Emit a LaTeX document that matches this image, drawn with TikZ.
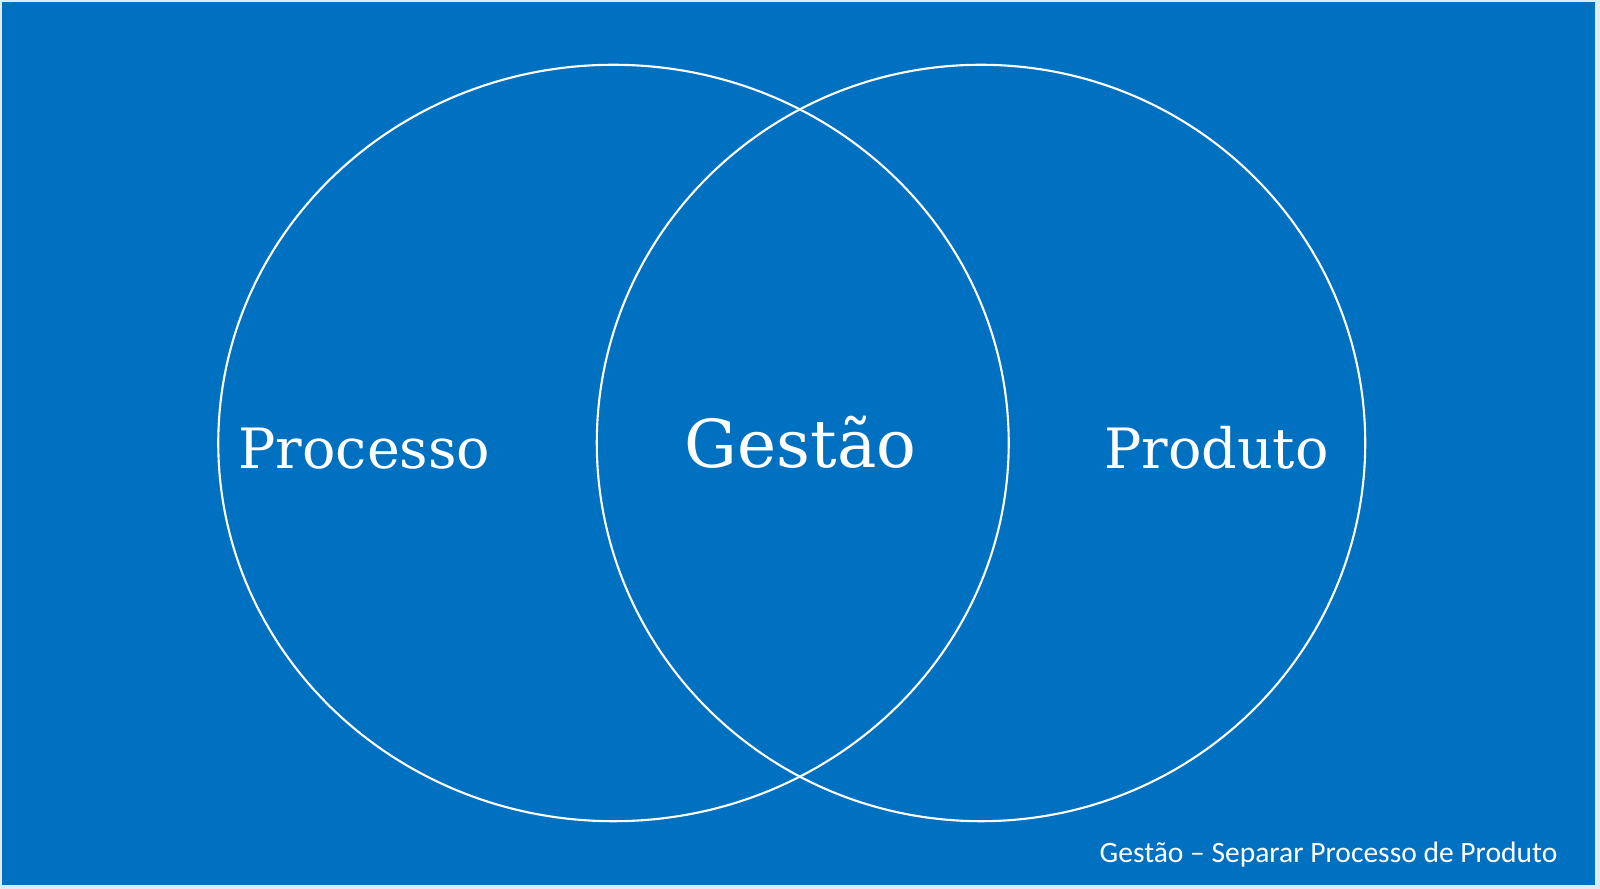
\documentclass[tikz,border=0pt]{standalone}
\usepackage{fontspec}
\setmainfont{DejaVu Serif}
\newfontfamily\footfont{Carlito}
\definecolor{bgblue}{RGB}{0,112,192}
\definecolor{edge}{RGB}{225,235,245}
\tikzset{
  venn/.style={draw=white, line width=0.6pt},
  bigtext/.style={text=white, inner sep=0pt, font=\fontsize{15.8}{18}\selectfont},
  foottext/.style={text=white, inner sep=0pt, font=\footfont\fontsize{8.4}{10}\selectfont}
}
\begin{document}
\begin{tikzpicture}[x=0.01cm, y=-0.01cm]
  \useasboundingbox (0,0) rectangle (1600,889);
  \fill[edge] (0,0) rectangle (1600,889);
  \fill[bgblue] (2,2) rectangle (1595,885);
  \draw[venn] (613.5,443) ellipse [x radius=3.95cm, y radius=3.78cm];
  \draw[venn] (981,443) ellipse [x radius=3.84cm, y radius=3.78cm];
  \node[bigtext, anchor=base] (proc) at (364.5,469) {Processo};
  \node[bigtext, anchor=base, font=\fontsize{18.8}{22}\selectfont] (gest) at (800.5,468) {Gestão};
  \node[bigtext, anchor=base] (prod) at (1216.5,469) {Produto};
  \node[foottext, anchor=base east] (foot) at (1558,863) {Gestão – Separar Processo de Produto};
\end{tikzpicture}
\end{document}
